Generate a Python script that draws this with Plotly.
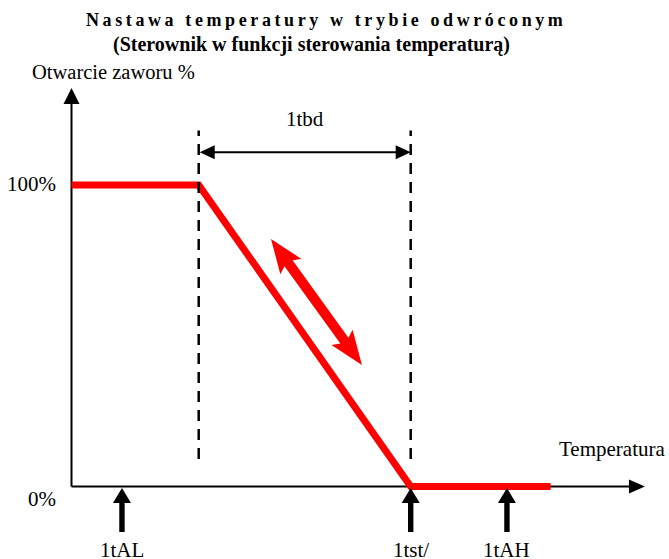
import math
import plotly.graph_objects as go

W, H = 669, 559

# Valve opening curve: temperature (arbitrary units) vs opening %
curve_temp = [0.0, 6.0, 16.0, 22.6]
curve_open = [100, 100, 0, 0]

# Dead band 1tbd
band_start, band_end = 6.0, 16.0
band_label = "1tbd"

# Parameter markers on the temperature axis
marker_names = ["1tAL", "1tst/", "1tAH"]
marker_temps = [2.38, 16.0, 20.54]

# Y tick labels
tick_vals = [100, 0]
tick_text = ["100%", "0%"]

# Axis extents
x_axis_end = 27.05
y_axis_end = 132.2

# Red direction arrow along the ramp
dir_arrow_temp = [9.41, 13.7]
dir_arrow_open = [82.1, 40.3]

# Dashed guides and dimension line level
dash_top, dash_bottom = 118.1, 9.1
dim_level = 110.9

title_1 = "Nastawa temperatury w trybie odwróconym"
title_2 = "(Sterownik w funkcji sterowania temperaturą)"
x_title = "Temperatura"
y_title = "Otwarcie zaworu %"

# ---- scale between data units and screen pixels ----
X0, SX = 71.5, 21.2      # pixel of temp=0, pixels per temp unit
Y0, SY = 486.5, 3.015    # pixel of 0 %, pixels per %

x_range = [(0 - X0) / SX, (W - X0) / SX]
y_range = [(Y0 - H) / SY, Y0 / SY]


def to_px(t, v):
    return X0 + t * SX, Y0 - v * SY


def to_data(px, py):
    return (px - X0) / SX, (Y0 - py) / SY


def poly_path(points_px):
    pts = [to_data(px, py) for px, py in points_px]
    return "M " + " L ".join(f"{x:.4f},{y:.4f}" for x, y in pts) + " Z"


def head(tip, direction, length, half_w):
    """Triangle arrow head in pixel space, pointing along direction."""
    dx, dy = direction
    n = math.hypot(dx, dy)
    ux, uy = dx / n, dy / n
    nx, ny = -uy, ux
    bx, by = tip[0] - ux * length, tip[1] - uy * length
    return [tip, (bx + nx * half_w, by + ny * half_w), (bx - nx * half_w, by - ny * half_w)]


FONT = "Liberation Serif, Times New Roman, serif"
BLACK = "#000000"
RED = "#ff0000"

shapes = []
annotations = []

# Axes
ox, oy = to_px(0, 0)
xe_px, _ = to_px(x_axis_end, 0)
_, ye_px = to_px(0, y_axis_end)
shapes.append(dict(type="line", xref="x", yref="y", x0=0, y0=0,
                   x1=to_data(xe_px - 12, oy)[0], y1=0,
                   line=dict(color=BLACK, width=2), layer="below"))
shapes.append(dict(type="line", xref="x", yref="y", x0=0, y0=0,
                   x1=0, y1=to_data(ox, ye_px + 12)[1],
                   line=dict(color=BLACK, width=2), layer="below"))
shapes.append(dict(type="path", xref="x", yref="y",
                   path=poly_path(head((xe_px, oy), (1, 0), 16, 7)),
                   fillcolor=BLACK, line=dict(width=0)))
shapes.append(dict(type="path", xref="x", yref="y",
                   path=poly_path(head((ox, ye_px), (0, -1), 16, 8)),
                   fillcolor=BLACK, line=dict(width=0)))

# Dashed band guides
for t in (band_start, band_end):
    shapes.append(dict(type="line", xref="x", yref="y", x0=t, x1=t,
                       y0=dash_bottom, y1=dash_top,
                       line=dict(color=BLACK, width=2.5, dash="11px,8px")))

# Dimension line with heads
bs_px, dim_px = to_px(band_start, dim_level)
be_px, _ = to_px(band_end, dim_level)
shapes.append(dict(type="line", xref="x", yref="y",
                   x0=to_data(bs_px + 10, dim_px)[0], x1=to_data(be_px - 10, dim_px)[0],
                   y0=dim_level, y1=dim_level, line=dict(color=BLACK, width=2)))
shapes.append(dict(type="path", xref="x", yref="y",
                   path=poly_path(head((bs_px + 1, dim_px), (-1, 0), 15, 7)),
                   fillcolor=BLACK, line=dict(width=0)))
shapes.append(dict(type="path", xref="x", yref="y",
                   path=poly_path(head((be_px, dim_px), (1, 0), 15, 7)),
                   fillcolor=BLACK, line=dict(width=0)))
annotations.append(dict(x=(band_start + band_end) / 2, y=dim_level, xref="x", yref="y",
                        text=band_label, showarrow=False, yshift=33,
                        font=dict(family=FONT, size=21, color=BLACK)))

# Red double-headed direction arrow
a = to_px(dir_arrow_temp[0], dir_arrow_open[0])
b = to_px(dir_arrow_temp[1], dir_arrow_open[1])
dx, dy = b[0] - a[0], b[1] - a[1]
L = math.hypot(dx, dy)
ux, uy = dx / L, dy / L
nx, ny = -uy, ux
hl, hw, sw, notch = 30, 13, 5, 4
pts = [
    a,
    (a[0] + ux * (hl + notch) + nx * hw, a[1] + uy * (hl + notch) + ny * hw),
    (a[0] + ux * hl + nx * sw, a[1] + uy * hl + ny * sw),
    (b[0] - ux * hl + nx * sw, b[1] - uy * hl + ny * sw),
    (b[0] - ux * (hl + notch) + nx * hw, b[1] - uy * (hl + notch) + ny * hw),
    b,
    (b[0] - ux * (hl + notch) - nx * hw, b[1] - uy * (hl + notch) - ny * hw),
    (b[0] - ux * hl - nx * sw, b[1] - uy * hl - ny * sw),
    (a[0] + ux * hl - nx * sw, a[1] + uy * hl - ny * sw),
    (a[0] + ux * (hl + notch) - nx * hw, a[1] + uy * (hl + notch) - ny * hw),
]
shapes.append(dict(type="path", xref="x", yref="y", path=poly_path(pts),
                   fillcolor=RED, line=dict(width=0)))

# Parameter marker arrows below the temperature axis
for name, t in zip(marker_names, marker_temps):
    mx, my = to_px(t, 0)
    tip = (mx, my + 1.5)
    shapes.append(dict(type="path", xref="x", yref="y",
                       path=poly_path(head(tip, (0, -1), 15, 9)),
                       fillcolor=BLACK, line=dict(width=0)))
    shapes.append(dict(type="path", xref="x", yref="y",
                       path=poly_path([(mx - 2.7, my + 15), (mx + 2.7, my + 15),
                                       (mx + 2.7, my + 45.5), (mx - 2.7, my + 45.5)]),
                       fillcolor=BLACK, line=dict(width=0)))
    annotations.append(dict(x=t, y=0, xref="x", yref="y", text=name, showarrow=False,
                            yshift=-63, font=dict(family=FONT, size=21, color=BLACK)))

# Y tick labels
for v, txt in zip(tick_vals, tick_text):
    annotations.append(dict(x=0, y=v, xref="x", yref="y", text=txt, showarrow=False,
                            xanchor="right", xshift=-14, yshift=1 if v else -12,
                            font=dict(family=FONT, size=21, color=BLACK)))

# Axis titles
annotations.append(dict(x=0, y=y_axis_end, xref="x", yref="y", text=y_title,
                        showarrow=False, xanchor="left", xshift=-42, yshift=16,
                        font=dict(family=FONT, size=20.5, color=BLACK)))
annotations.append(dict(x=x_axis_end, y=0, xref="x", yref="y", text=x_title,
                        showarrow=False, xanchor="right", xshift=22, yshift=38,
                        font=dict(family=FONT, size=21, color=BLACK)))

# Title (first line letter-spaced)
spaced = "\u2009".join(title_1)
annotations.append(dict(x=324 / W, y=1 - 20 / H, xref="paper", yref="paper",
                        xanchor="center", yanchor="middle", text=f"<b>{spaced}</b>",
                        showarrow=False, font=dict(family=FONT, size=18, color=BLACK)))
annotations.append(dict(x=311 / W, y=1 - 45 / H, xref="paper", yref="paper",
                        xanchor="center", yanchor="middle", text=f"<b>{title_2}</b>",
                        showarrow=False, font=dict(family=FONT, size=20, color=BLACK)))

fig = go.Figure()
fig.add_trace(go.Scatter(x=curve_temp, y=curve_open, mode="lines",
                         line=dict(color=RED, width=7), hoverinfo="skip"))

fig.update_layout(
    width=W, height=H,
    margin=dict(l=0, r=0, t=0, b=0),
    paper_bgcolor="white", plot_bgcolor="white",
    showlegend=False,
    xaxis=dict(range=x_range, visible=False, fixedrange=True),
    yaxis=dict(range=y_range, visible=False, fixedrange=True),
    shapes=shapes,
    annotations=annotations,
)

fig.write_html("out.html", config={"displayModeBar": False})
